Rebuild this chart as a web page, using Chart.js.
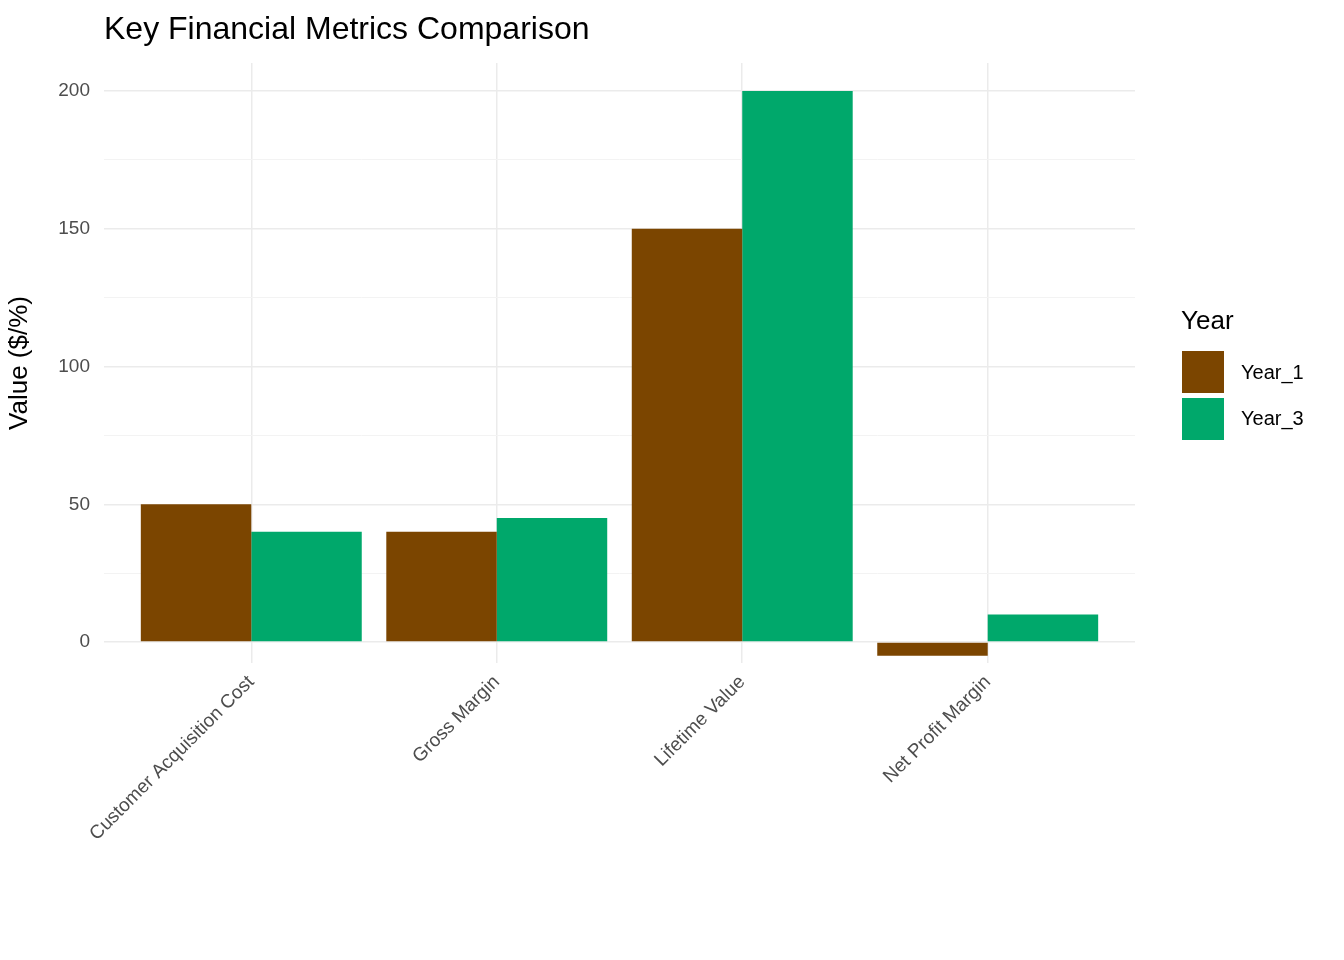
<!DOCTYPE html>
<html>
<head>
<meta charset="utf-8">
<script src="https://cdn.jsdelivr.net/npm/chart.js@4"></script>
<style>
  body { margin: 0; background: #fff; font-family: "Liberation Sans", Arial, sans-serif; }
  #wrap { position: relative; width: 1344px; height: 960px; }
  #title { position: absolute; left: 104px; top: 10px; font-size: 32px; color: #000; }
  .lg { position: absolute; font-size: 20px; color: #000; }
  .key { position: absolute; width: 42px; height: 42px; }
</style>
</head>
<body>
<div id="wrap">
  <canvas id="c" width="1344" height="960"></canvas>
  <div id="title">Key Financial Metrics Comparison</div>
  <div class="lg" style="left:1181px;top:305px;font-size:26px;">Year</div>
  <div class="key" style="left:1182px;top:351px;background:#7B4500;"></div>
  <div class="lg" style="left:1241px;top:361px;">Year_1</div>
  <div class="key" style="left:1182px;top:398px;background:#00A86B;"></div>
  <div class="lg" style="left:1241px;top:407px;">Year_3</div>
</div>
<script>
const categories = ["Customer Acquisition Cost", "Gross Margin", "Lifetime Value", "Net Profit Margin"];
const year1 = [50, 40, 150, -5];
const year3 = [40, 45, 200, 10];
const yTicks = [0, 25, 50, 75, 100, 125, 150, 175, 200];

const font = "'Liberation Sans', Arial, sans-serif";
const toPoints = (vals) => vals.map((v, i) => ({ x: i, y: v }));

new Chart(document.getElementById("c"), {
  type: "bar",
  data: {
    datasets: [
      { label: "Year_1", data: toPoints(year1), backgroundColor: "#7B4500" },
      { label: "Year_3", data: toPoints(year3), backgroundColor: "#00A86B" },
    ],
  },
  options: {
    responsive: false,
    animation: false,
    layout: { padding: { top: 63, right: 209, left: 0, bottom: 0 } },
    datasets: { bar: { categoryPercentage: 0.9, barPercentage: 1 } },
    plugins: { legend: { display: false }, tooltip: { enabled: false } },
    scales: {
      x: {
        type: "linear",
        offset: false,
        grace: 0,
        min: -0.6,
        max: 3.6,
        afterBuildTicks: (s) => { s.ticks = categories.map((_, i) => ({ value: i })); },
        afterFit: (s) => { s.height = 297; },
        grid: { color: "#ebebeb", lineWidth: 1.5, drawTicks: false, offset: false },
        border: { display: false },
        ticks: {
          autoSkip: false,
          maxRotation: 45,
          minRotation: 45,
          padding: 8,
          color: "#4d4d4d",
          font: { family: font, size: 19 },
          callback: (v) => categories[v],
        },
      },
      y: {
        min: -7.6,
        max: 210.2,
        afterBuildTicks: (s) => { s.ticks = yTicks.map((v) => ({ value: v })); },
        afterFit: (s) => { s.width = 104; },
        grid: {
          drawTicks: false,
          color: (c) => (c.tick && c.tick.value % 50 === 0 ? "#ebebeb" : "#f3f3f3"),
          lineWidth: (c) => (c.tick && c.tick.value % 50 === 0 ? 1.5 : 1),
        },
        border: { display: false },
        title: { display: true, text: "Value ($/%)", color: "#000", font: { family: font, size: 26 }, padding: { bottom: 6 } },
        ticks: {
          padding: 14,
          color: "#4d4d4d",
          font: { family: font, size: 19 },
          callback: (v) => (v % 50 === 0 ? v : ""),
        },
      },
    },
  },
});
</script>
</body>
</html>
